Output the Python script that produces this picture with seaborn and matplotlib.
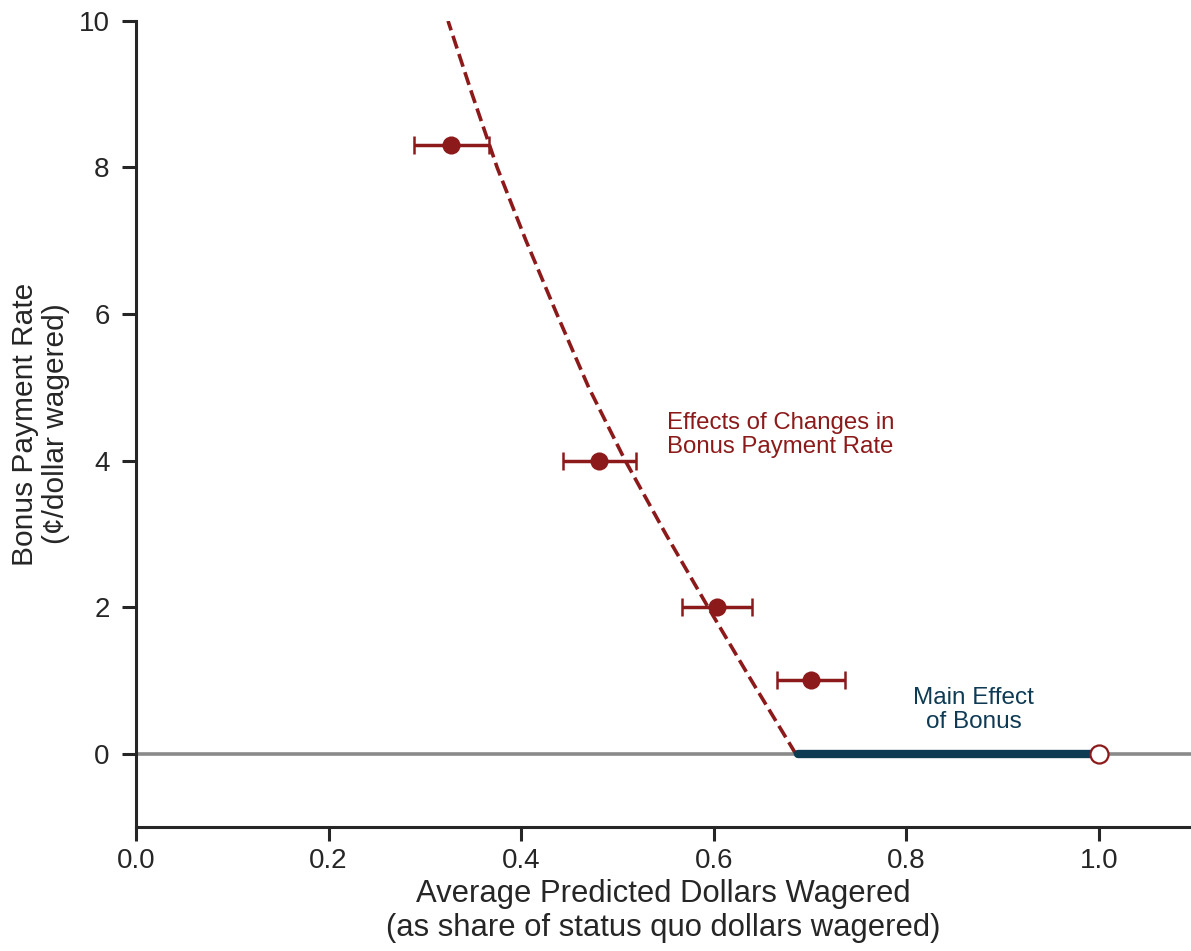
import matplotlib
matplotlib.use("Agg")
import matplotlib.pyplot as plt
import seaborn as sns
import pandas as pd

# Data
point_x = [0.327, 0.481, 0.603, 0.701]
point_y = [8.3, 4.0, 2.0, 1.0]
err_lo = [0.289, 0.443, 0.567, 0.666]
err_hi = [0.367, 0.519, 0.640, 0.736]

curve_y = [0, 1, 2, 3, 4, 5, 6, 7, 8, 9, 10]
curve_x = [0.685, 0.639, 0.594, 0.550, 0.508, 0.470, 0.437, 0.405, 0.375, 0.349, 0.324]

main_x = [0.687, 1.0]
main_y = [0, 0]

xticks = [0.0, 0.2, 0.4, 0.6, 0.8, 1.0]
yticks = [0, 2, 4, 6, 8, 10]

RED = "#8c1a1a"
NAVY = "#0e3a54"
GREY = "#8a8a8a"
DARK = "#262626"

sns.set_theme(style="ticks")
plt.rcParams["font.family"] = ["Liberation Sans", "DejaVu Sans"]

fig = plt.figure(figsize=(11.91, 9.51), dpi=100)
ax = fig.add_axes([0.1142, 0.1304, 0.8858, 0.8476])

ax.axhline(0, color=GREY, lw=2.6, zorder=1)

curve_df = pd.DataFrame({"x": curve_x, "y": curve_y})
sns.lineplot(data=curve_df, x="x", y="y", sort=False, estimator=None, color=RED,
             lw=2.6, linestyle="--", ax=ax, zorder=2)

main_df = pd.DataFrame({"x": main_x, "y": main_y})
sns.lineplot(data=main_df, x="x", y="y", sort=False, estimator=None, color=NAVY,
             lw=6, ax=ax, zorder=3, solid_capstyle="round")

xerr = [[px - lo for px, lo in zip(point_x, err_lo)],
        [hi - px for px, hi in zip(point_x, err_hi)]]
ax.errorbar(point_x, point_y, xerr=xerr, fmt="none", ecolor=RED, elinewidth=2.5,
            capsize=6.2, capthick=1.8, zorder=4)
pts_df = pd.DataFrame({"x": point_x, "y": point_y})
sns.scatterplot(data=pts_df, x="x", y="y", color=RED, s=170, edgecolor=RED,
                linewidth=0, ax=ax, zorder=5)

ax.plot([1.0], [0], marker="o", markersize=13, markerfacecolor="white",
        markeredgecolor=RED, markeredgewidth=1.6, zorder=6, linestyle="none")

ax.text(0.551, 4.35, "Effects of Changes in\nBonus Payment Rate", color=RED,
        fontsize=17.3, ha="left", va="center", linespacing=1.15)
ax.text(0.870, 0.6, "Main Effect\nof Bonus", color=NAVY, fontsize=17.5,
        ha="center", va="center", linespacing=1.1)

ax.set_xlim(0, 1.0955)
ax.set_ylim(-1, 10)
ax.set_xticks(xticks)
ax.set_xticklabels([f"{t:.1f}" for t in xticks])
ax.set_yticks(yticks)
ax.set_yticklabels([str(t) for t in yticks])

ax.set_xlabel("Average Predicted Dollars Wagered\n(as share of status quo dollars wagered)",
              fontsize=22.3, color=DARK, labelpad=4, linespacing=1.15)
ax.set_ylabel("Bonus Payment Rate\n(¢/dollar wagered)", fontsize=21.5, color=DARK,
              labelpad=6, linespacing=1.15)

for side in ["top", "right"]:
    ax.spines[side].set_visible(False)
for side in ["left", "bottom"]:
    ax.spines[side].set_linewidth(2.2)
    ax.spines[side].set_color(DARK)
ax.tick_params(axis="both", length=10, width=2.2, colors=DARK, labelsize=20,
               labelcolor=DARK)
ax.tick_params(axis="x", pad=5)
ax.tick_params(axis="y", pad=9)

fig.savefig("out.png", dpi=100)
